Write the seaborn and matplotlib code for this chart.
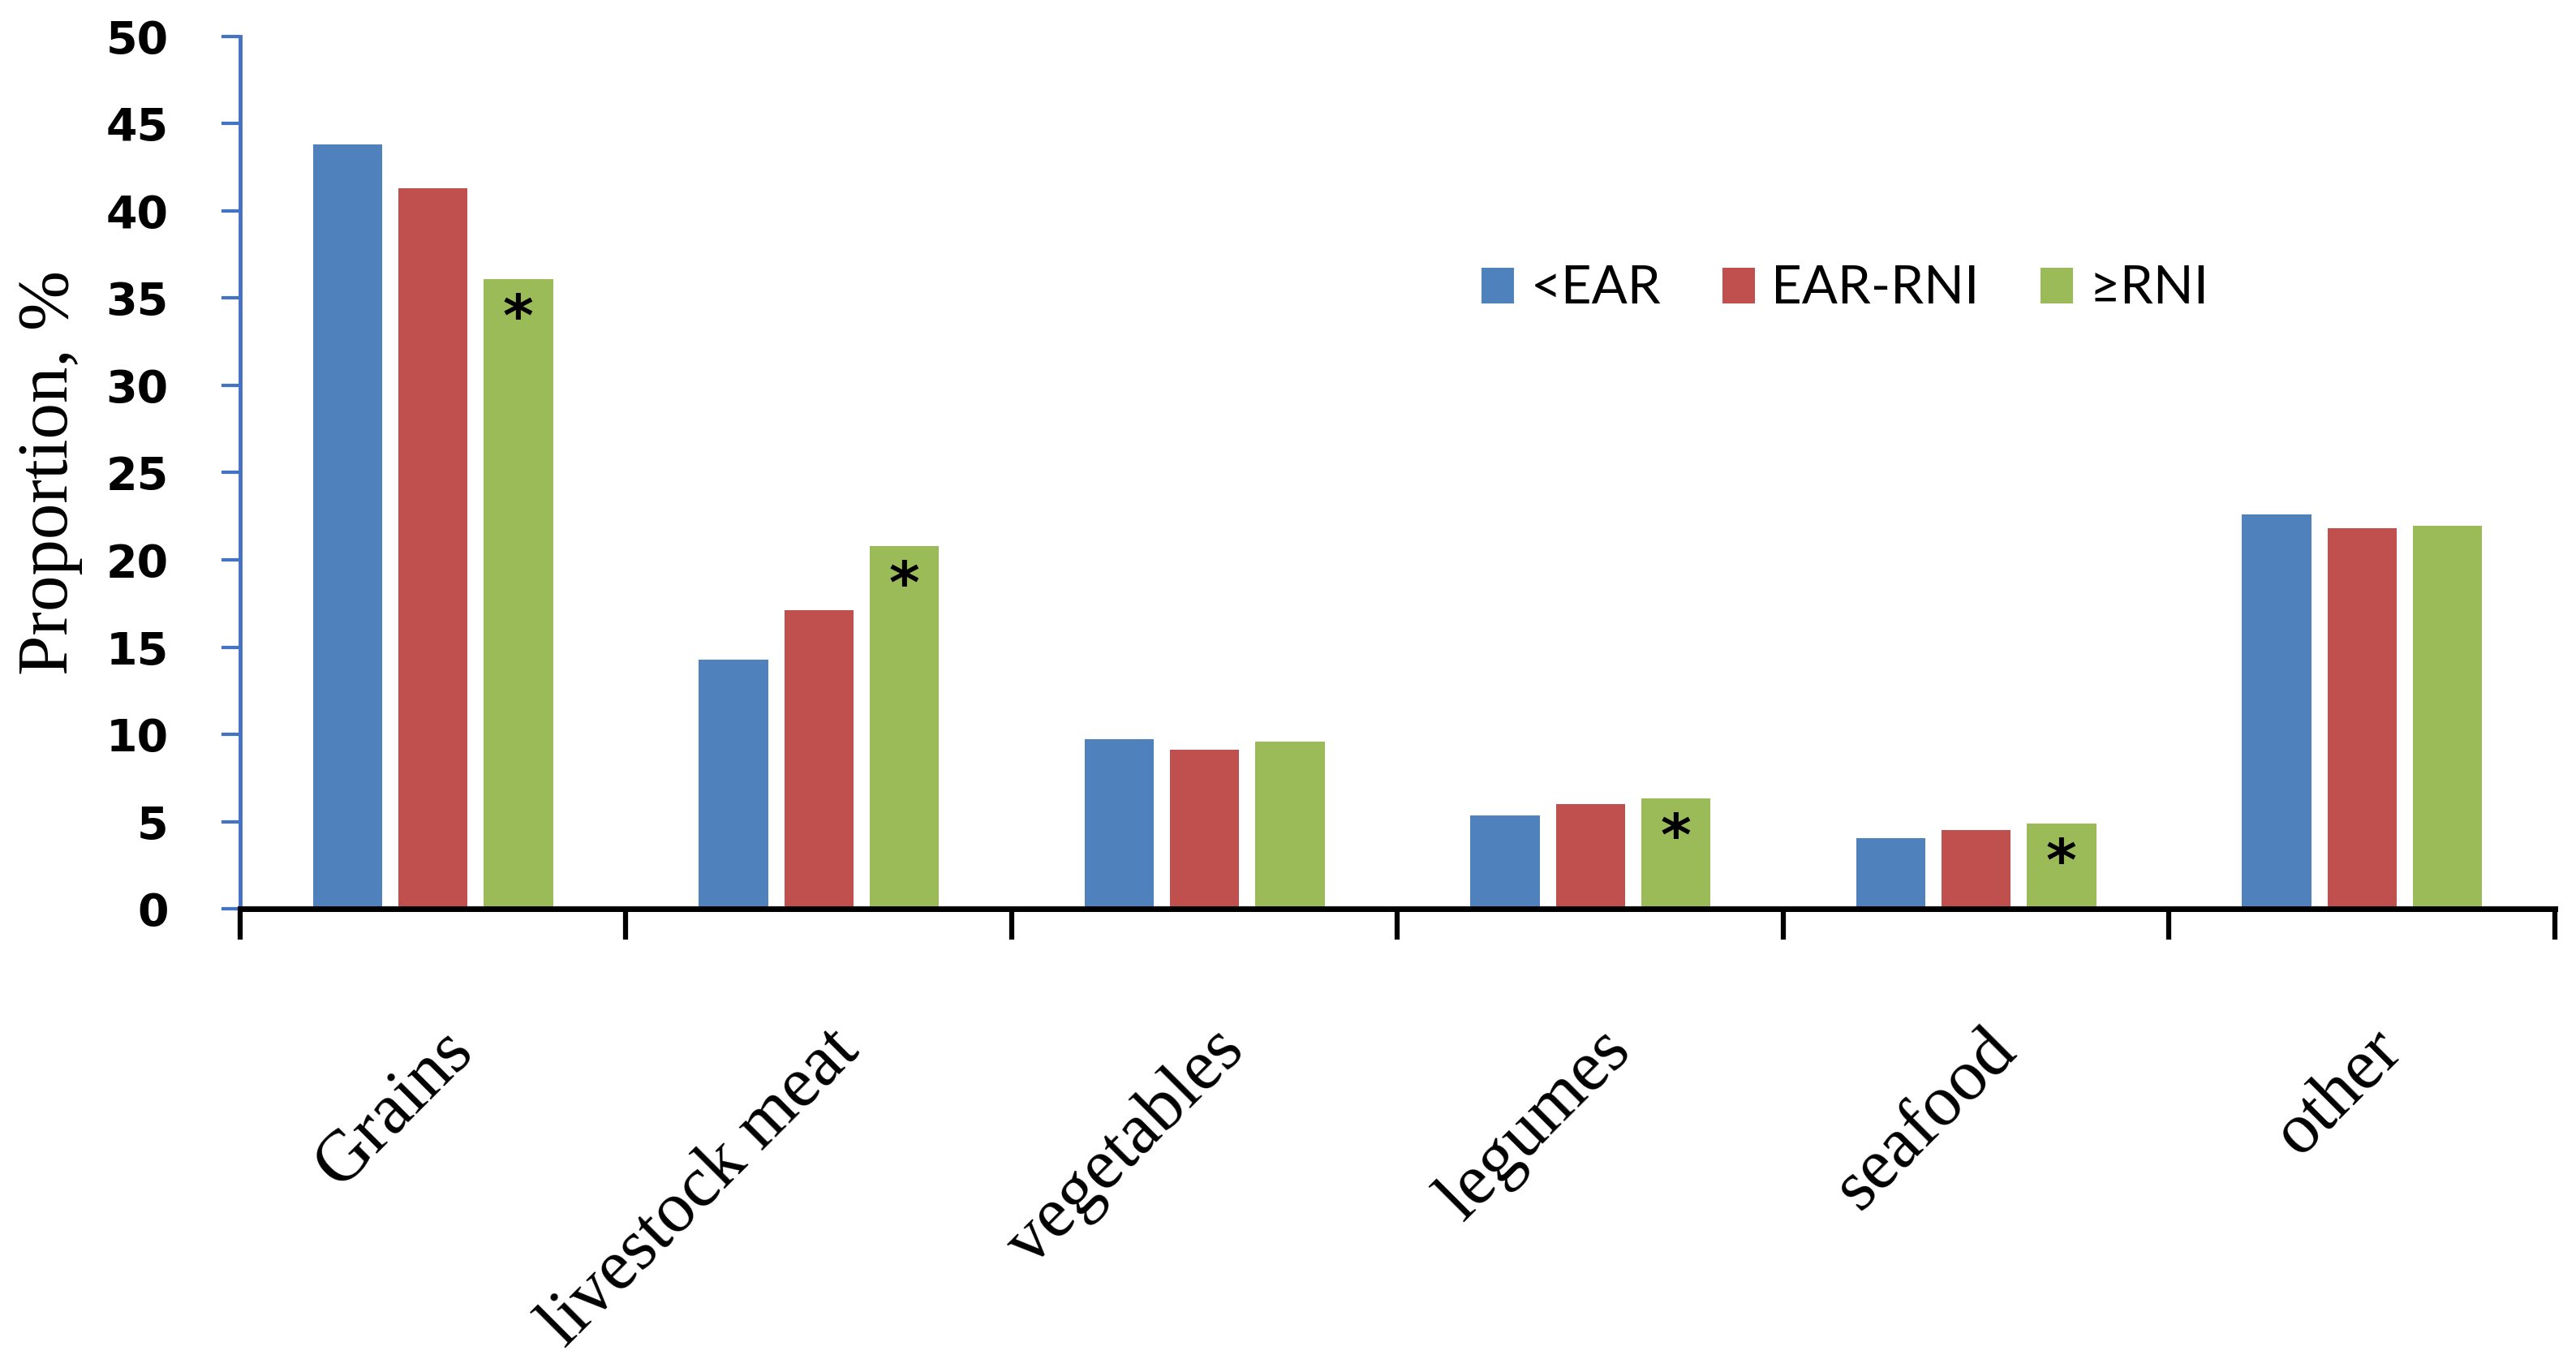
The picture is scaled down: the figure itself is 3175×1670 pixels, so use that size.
import numpy as np
import pandas as pd
import seaborn as sns
import matplotlib.pyplot as plt
from matplotlib.transforms import ScaledTranslation

# -------------------------- Data --------------------------
foods = ["Grains", "livestock meat", "vegetables", "legumes", "seafood", "other"]
groups = ["<EAR", "EAR-RNI", "≥RNI"]
below_ear = [43.8, 14.3, 9.7, 5.35, 4.05, 22.6]
ear_rni = [41.3, 17.1, 9.1, 6.0, 4.5, 21.8]
above_rni = [36.1, 20.8, 9.6, 6.35, 4.9, 21.95]
significant = [True, True, False, True, True, False]   # asterisk on the >=RNI bar
yticks = [0, 5, 10, 15, 20, 25, 30, 35, 40, 45, 50]

colors = ["#4F81BD", "#C0504D", "#9BBB59"]
axis_blue = "#4472C4"

df = pd.DataFrame({
    "food": foods * 3,
    "group": np.repeat(groups, len(foods)),
    "value": below_ear + ear_rni + above_rni,
})

# -------------------------- Plot --------------------------
sns.set_style("white")
plt.rcParams['font.family'] = ['DejaVu Sans']
plt.rcParams['text.color'] = 'black'
plt.rcParams['axes.labelcolor'] = 'black'

fig = plt.figure(figsize=(31.75, 16.7), dpi=100)
ax = fig.add_axes([0.0932, 0.3293, 0.8986, 0.6438])

sns.barplot(data=df, x="food", y="value", hue="group", order=foods, hue_order=groups,
            palette=colors, saturation=1, width=0.664, gap=0.19, errorbar=None,
            linewidth=0, ax=ax)

ax.set_xlim(-0.5, len(foods) - 0.5)
ax.set_ylim(0, 50)
ax.set_yticks(yticks)
ax.set_xticks(range(len(foods)), foods)
ax.set_xticks(np.arange(-0.5, len(foods)), minor=True)

for side in ["top", "right"]:
    ax.spines[side].set_visible(False)
ax.spines["left"].set_color(axis_blue)
ax.spines["left"].set_linewidth(3.5)
ax.spines["bottom"].set_color("black")
ax.spines["bottom"].set_linewidth(5)
ax.spines["bottom"].set_zorder(5)

ax.tick_params(axis="y", left=True, direction="out", length=16.5, width=3,
               color=axis_blue, pad=47, labelsize=40, labelcolor="black")
ax.tick_params(axis="x", which="major", bottom=True, length=0, pad=96,
               labelsize=64, labelrotation=45, labelcolor="black")
ax.tick_params(axis="x", which="minor", bottom=True, length=27, width=4.5,
               color="black", direction="out")

for t in ax.get_yticklabels():
    t.set_fontweight("bold")

shift = ScaledTranslation(8 / 100, 0, fig.dpi_scale_trans)
for t in ax.get_xticklabels():
    t.set_family("Liberation Serif")
    t.set_ha("right")
    t.set_va("top")
    t.set_rotation_mode("anchor")
    t.set_transform(t.get_transform() + shift)

ax.set_xlabel("")
ax.set_ylabel("Proportion, %", fontsize=64, family="Liberation Serif")
ax.yaxis.set_label_coords(-0.068, 0.5)

# significance marks on the >=RNI bars
for bar, flag in zip(ax.containers[2], significant):
    if flag:
        ax.annotate("*", xy=(bar.get_x() + bar.get_width() / 2, bar.get_height()),
                    xytext=(0, -16), textcoords="offset pixels", ha="center", va="top",
                    fontsize=52, fontweight="bold", color="black")

# legend
old = ax.get_legend()
handles = old.legend_handles
labels = [t.get_text() for t in old.get_texts()]
old.remove()
ax.legend(handles, labels, loc="center left", bbox_to_anchor=(1826 / 3175, 1 - 356 / 1670),
          bbox_transform=fig.transFigure, ncol=3, frameon=False, borderpad=0,
          borderaxespad=0, handlelength=0.62, handleheight=0.66, handletextpad=0.31,
          columnspacing=1.15, prop={"family": ["Lato", "DejaVu Sans"], "size": 47})

fig.savefig("out.png", dpi=100)
